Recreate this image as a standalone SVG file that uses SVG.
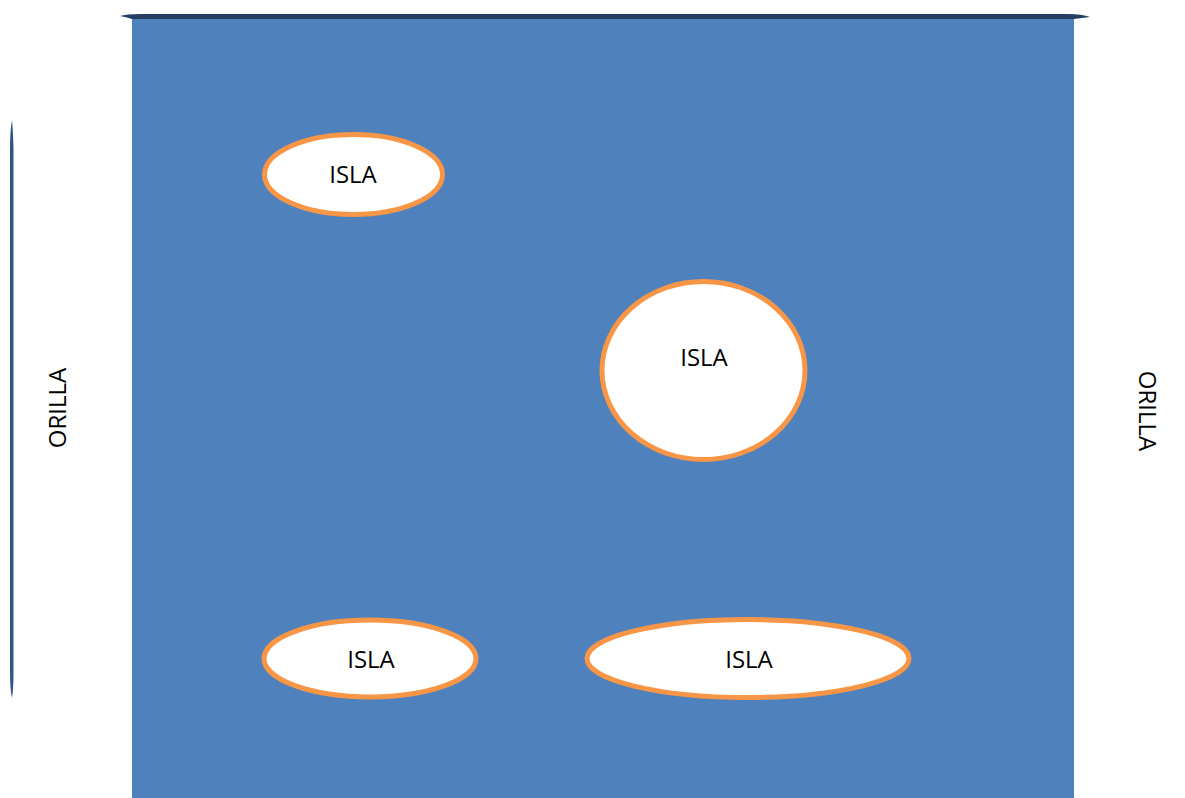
<svg xmlns="http://www.w3.org/2000/svg" width="1185" height="798" viewBox="0 0 1185 798">
  <style>
    .isla { fill: #FFFFFF; stroke: #F79646; stroke-width: 5; }
    .lbl { font-family: "Open Sans", "Liberation Sans", sans-serif; font-size: 24px; fill: #000000; text-anchor: middle; }
  </style>
  <rect width="1185" height="798" fill="#FFFFFF"/>
  <g id="rio">
    <rect x="132" y="18" width="942" height="780" fill="#4F81BD"/>
    <path d="M120,16 Q126,14 140,14 L1068,14 Q1082,14 1090,17 Q1082,18 1074,19 L132,19 Q126,17 120,16 Z" fill="#243F60"/>
  </g>
  <g id="orilla-izq">
    <path d="M12,120 Q13,130 13.5,150 L13.5,670 Q13.5,690 12,698 Q10,690 10,670 L10,150 Q10,130 12,120 Z" fill="#2F5585"/>
    <text class="lbl" transform="translate(66,408) rotate(-90)">ORILLA</text>
  </g>
  <g id="orilla-der">
    <text class="lbl" transform="translate(1139,411) rotate(90)">ORILLA</text>
  </g>
  <g id="isla1">
    <ellipse class="isla" cx="353.5" cy="174.5" rx="89" ry="40"/>
    <text class="lbl" x="353" y="183">ISLA</text>
  </g>
  <g id="isla2">
    <ellipse class="isla" cx="703.5" cy="370.5" rx="101.5" ry="89"/>
    <text class="lbl" x="704" y="366">ISLA</text>
  </g>
  <g id="isla3">
    <ellipse class="isla" cx="370" cy="658.5" rx="106" ry="38.5"/>
    <text class="lbl" x="371" y="668">ISLA</text>
  </g>
  <g id="isla4">
    <ellipse class="isla" cx="748" cy="658.5" rx="161" ry="39"/>
    <text class="lbl" x="749" y="668">ISLA</text>
  </g>
  <g id="connectors"></g>
</svg>
